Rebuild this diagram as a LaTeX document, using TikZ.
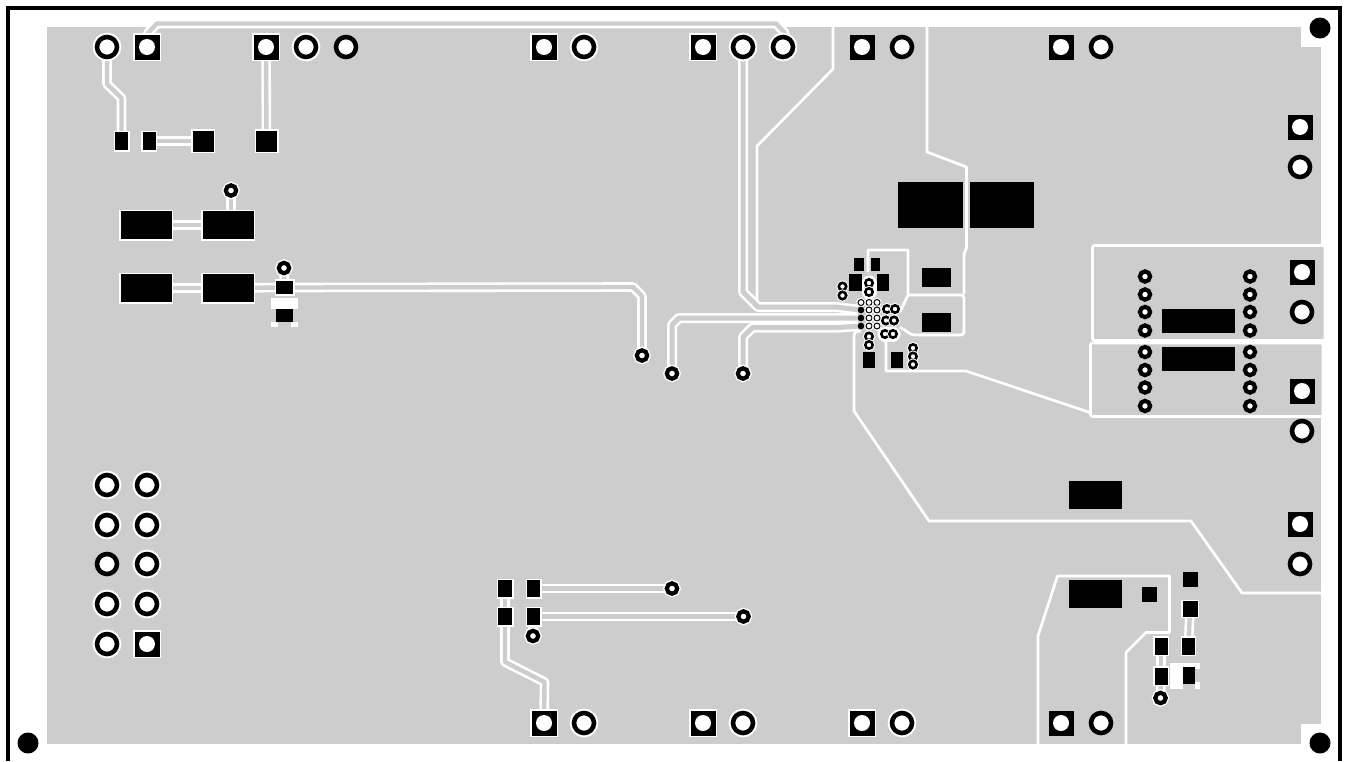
\documentclass[tikz,border=0pt]{standalone}
\definecolor{boardgray}{RGB}{205,205,205}
\pgfdeclarelayer{board}
\pgfdeclarelayer{tracks}
\pgfsetlayers{board,tracks,main}
\tikzset{
    smd/.style 2 args={rectangle,fill=black,inner sep=0pt,outer sep=0pt,minimum width=#1pt,minimum height=#2pt},
    halobox/.style={preaction={draw=white,line width=3pt}},
    sqpad/.style={rectangle,fill=black,inner sep=0pt,outer sep=0pt,minimum size=25pt,
        path picture={\fill[white] (path picture bounding box.center) circle (8pt);}},
    rndpad/.style={circle,draw=black,fill=white,inner sep=0pt,outer sep=0pt,line width=4.6pt,minimum size=20pt},
    halosq/.style={preaction={draw=white,line width=3pt}},
    halornd/.style={preaction={draw=white,line width=8.6pt}},
    viapad/.style={circle,draw=black,fill=white,inner sep=0pt,outer sep=0pt,line width=4.2pt,minimum size=10.4pt},
    halovia/.style={preaction={draw=white,line width=7pt}},
    colvia/.style={circle,draw=black,fill=white,inner sep=0pt,outer sep=0pt,line width=4.2pt,minimum size=10.2pt},
    minivia/.style={circle,draw=black,fill=white,inner sep=0pt,outer sep=0pt,line width=2.6pt,minimum size=7.4pt,
        preaction={draw=white,line width=4.6pt}},
    gridvia/.style={circle,draw=black,fill=white,inner sep=0pt,outer sep=0pt,line width=1pt,minimum size=6pt,
        preaction={draw=white,line width=3.2pt}},
    griddot/.style={circle,fill=black,inner sep=0pt,outer sep=0pt,minimum size=6.6pt},
    drillhole/.style={circle,fill=black,inner sep=0pt,outer sep=0pt,minimum size=21pt},
    trace/.style={draw=white,double=boardgray,double distance=4.4pt,line width=2.6pt,line join=round},
    zone/.style={draw=white,line width=2.7pt,line join=round},
}
\begin{document}
\begin{tikzpicture}[x=1pt,y=-1pt]
    \useasboundingbox (0,0) rectangle (1345,761);

    % outline and drill holes
    \draw [line width=4pt] (8,761) -- (8,8) -- (1340,8) -- (1340,761);
    \foreach \n/\x/\y in {ha/1320/28,hb/28/743,hc/1320/743}
        \node [drillhole] (\n) at (\x,\y) {};

    % through hole pads, top row
    \foreach \x in {147,266,544,703} \node [sqpad,halosq] (t\x) at (\x,47) {};
    \foreach \x in {862,1061} \node [sqpad] (t\x) at (\x,47) {};
    \foreach \x in {107,306,584,743,783} \node [rndpad,halornd] (t\x) at (\x,47) {};
    \foreach \x in {346,902,1101} \node [rndpad] (t\x) at (\x,47) {};

    % bottom row
    \foreach \x in {544,703,862} \node [sqpad,halosq] (b\x) at (\x,723) {};
    \node [sqpad] (b1061) at (1061,723) {};
    \foreach \x in {584,743,902} \node [rndpad,halornd] (b\x) at (\x,723) {};
    \node [rndpad] (b1101) at (1101,723) {};

    % right column
    \foreach \x/\y in {1300/127,1302/272,1302/391,1300/524} \node [sqpad] (r\y) at (\x,\y) {};
    \foreach \x/\y in {1300/167,1302/312,1302/431,1300/564} \node [rndpad] (r\y) at (\x,\y) {};

    % header block
    \foreach \y in {485,525,604,644} \node [rndpad,halornd] (la\y) at (107,\y) {};
    \node [rndpad] (la564) at (107,564) {};
    \foreach \y in {485,525,564,604} \node [rndpad,halornd] (lb\y) at (147,\y) {};
    \node [sqpad,halosq] (lb644) at (147,644) {};

    % vias
    \foreach \n/\x/\y in {v1/231/190.5,v2/284/268,v3/642/355.5,v4/672/373.5,v5/743/373.5,
                          v6/672/588.5,v7/743.5/616.5,v8/533/636,v9/1160.5/698}
        \node [viapad,halovia] (\n) at (\x,\y) {};
    \foreach \y in {276.5,294.5,312,330.5,352,370,387.5,406}{
        \node [colvia] (ca\y) at (1145,\y) {};
        \node [colvia] (cb\y) at (1250,\y) {};
    }

    % parts with clearance
    \foreach \n/\x/\y/\w/\h in {a1/146/225/51/28,a2/228/225/51/28,a3/146/288/51/28,a4/228/288/51/28,
            q1/121.5/141/13/18,q2/149/141/13/18,q3/203/141/21/21,q4/266.5/141/21/21,q5/284.5/287.5/17/13.5,
            d1/505/588.5/14/17,d2/533.5/588.5/13/17,d3/505/616.5/14/17,d4/533.5/616.5/13/17,
            e1/1190/609/15/15.5,e2/1161/646/13/17,e3/1188.5/646/12.5/17,e4/1161/676/13/17}
        \node [smd={\w}{\h},halobox] (\n) at (\x,\y) {};

    % parts without clearance
    \foreach \n/\x/\y/\w/\h in {f1/930.5/205/65/46.5,f2/1002/205/64.5/46.5,f3/936.5/277.5/29/19,f4/936.5/322.5/29/19,
            g1/1198.5/321/73/24,g2/1198.5/359/73/24,g3/1095.5/495/53/28,g4/1095/594/53/28,
            g5/1149/594.5/15/15,g6/1190/579.5/15/15,
            m1/859/264.5/10/13,m2/875/264.5/9/13,m3/855/282.5/13/17,m4/883/282.5/12/17,
            m5/869/360/12.5/16.5,m6/897/360/12.5/16.5,q6/284.5/315.5/17/13,e5/1189/675.5/12.5/17}
        \node [smd={\w}{\h}] (\n) at (\x,\y) {};

    % small vias round the chip
    \foreach \n/\x/\y in {s1/869/283,s2/869/292,s3/842.5/286.5,s4/842.5/295.5,
                          s5/887/309,s6/895/309,s7/886/320.5,s8/894/320.5,s9/885/334,s10/893/334,
                          s11/869/336.5,s12/869/345,s13/913/348,s14/913/356.5,s15/913/364.5}
        \node [minivia] (\n) at (\x,\y) {};
    \foreach \x in {869,877} \foreach \y in {302.5,310,318,326}
        \node [gridvia] (g\x-\y) at (\x,\y) {};
    \node [gridvia] (g861-302) at (861,302.5) {};
    \foreach \y in {310,318,326} \node [griddot] (k\y) at (861,\y) {};

    \begin{pgfonlayer}{board}
        \fill [boardgray] (47,27) rectangle (1321,744);
        \fill [white] (1301,27) rectangle (1322,47);
        \fill [white] (1301,724) rectangle (1322,745);
        \fill [white] (271,298) rectangle (298,309);
        \fill [white] (271,322) rectangle (278,327);
        \fill [white] (291,322) rectangle (298,327);
        \fill [white] (1170,663) rectangle (1200,689);
        \fill [boardgray] (1183,684) rectangle (1195,690);
        \fill [boardgray] (1195,669) rectangle (1201,682);
        \filldraw [zone,fill=boardgray,rounded corners=2pt] (1092.5,245.5) rectangle (1325,340.5);
        \filldraw [zone,fill=boardgray,rounded corners=2pt] (1090.5,343) rectangle (1323,416.5);
    \end{pgfonlayer}

    \begin{pgfonlayer}{tracks}
        % pour edges
        \draw [zone] (833,26) -- (833,69) -- (757,146) -- (757,302);
        \draw [zone] (927,26) -- (927,152) -- (966.5,167) -- (966.5,248) -- (964,254) -- (964,294);
        \draw [zone] (868,272) -- (868,250) -- (908,250) -- (908,295) -- (900,312);
        \draw [zone,rounded corners=3pt] (908,295) -- (964,295) -- (964,335) -- (912,335) -- (900,327);
        \draw [zone] (861,331) -- (855,332) -- (854,336) -- (854,411) -- (929,521) -- (1191,521) -- (1242,593) -- (1322,593);
        \draw [zone] (877,326) -- (882,338) -- (886,342) -- (886,371) -- (966,371) -- (1090,412.5);
        \draw [zone] (1038,744) -- (1038,636) -- (1057.5,576) -- (1169.5,576) -- (1169.5,632.5) -- (1146,632.5) -- (1126,652.5) -- (1126,745);

        % around the via pairs
        \foreach \c/\w in {white/15,boardgray/10}{
            \draw [\c,line width=\w pt,line cap=round] (s1.center) -- (s2.center);
            \draw [\c,line width=\w pt,line cap=round] (s9.center) -- (s10.center);
        }

        % tracks
        \draw [trace] (t107) -- (107,84) -- (121.5,98) -- (q1);
        \draw [trace] (q2) -- (q3);
        \draw [trace] (t266) -- (q4);
        \draw [trace] (t147) -- (148,33) -- (157,23.5) -- (776,23.5) -- (785,33) -- (t783);
        \draw [trace] (v1) -- (231,215);
        \draw [trace] (a1) -- (a2);
        \draw [trace] (a3) -- (a4);
        \draw [trace] (a4) -- (q5);
        \draw [trace] (v2) -- (q5);
        \draw [trace] (q5) -- (633,287) -- (642,296) -- (v3);
        \draw [trace] (d2) -- (v6);
        \draw [trace] (d4) -- (v7);
        \draw [trace] (d4) -- (v8);
        \draw [trace] (d1) -- (d3);
        \draw [trace] (d3) -- (505,662) -- (544.5,682) -- (b544);
        \draw [trace] (e1) -- (e3);
        \draw [trace] (e2) -- (e4);
        \draw [trace] (e4) -- (v9);

        % three tracks into the chip
        \foreach \c/\w in {white/10,boardgray/5}{
            \draw [\c,line width=\w pt,line join=round] (t743) -- (743,292) -- (758,307) -- (836,307) -- (k310);
            \draw [\c,line width=\w pt,line join=round] (v4) -- (672,325) -- (679,318) -- (838,318) -- (k318);
            \draw [\c,line width=\w pt,line join=round] (v5) -- (743,337) -- (752.5,327.5) -- (838,327.5) -- (k326);
        }
    \end{pgfonlayer}
\end{tikzpicture}
\end{document}
